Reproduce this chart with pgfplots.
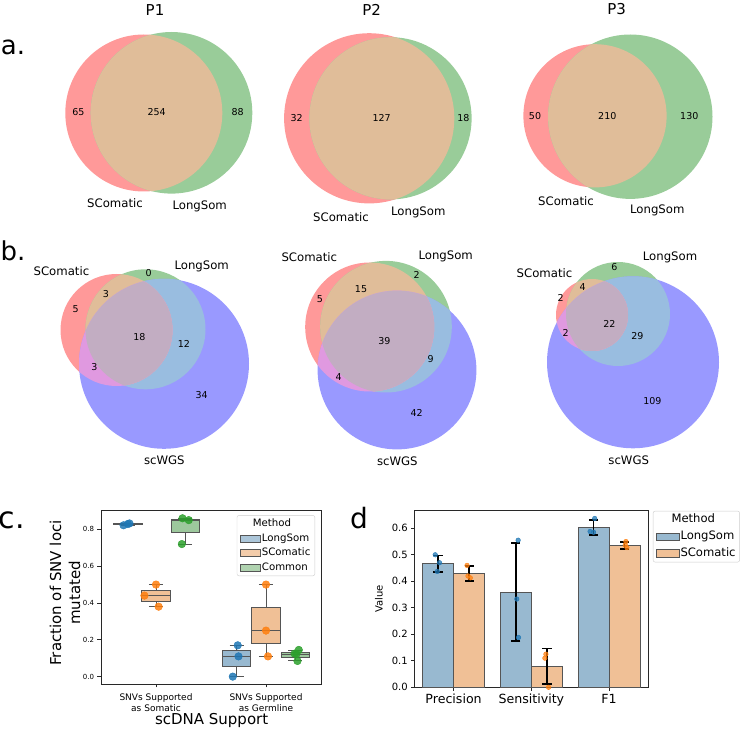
\documentclass[border=0pt]{standalone}
\usepackage{fontspec}
\setmainfont{DejaVu Sans}
\usepackage{pgfplots}
\pgfplotsset{compat=1.18}
\definecolor{vr}{RGB}{255,153,153}
\definecolor{vg}{RGB}{153,204,153}
\definecolor{vb}{RGB}{153,153,255}
\definecolor{vrg}{RGB}{224,189,153}
\definecolor{vgb}{RGB}{153,189,224}
\definecolor{vrb}{RGB}{224,153,224}
\definecolor{vrgb}{RGB}{194,173,194}
\definecolor{cA}{RGB}{31,119,180}
\definecolor{cB}{RGB}{255,127,14}
\definecolor{cC}{RGB}{44,160,44}
\definecolor{fA}{RGB}{152,185,208}
\definecolor{fB}{RGB}{240,192,150}
\definecolor{fC}{RGB}{157,200,157}
\definecolor{edge}{RGB}{85,85,85}
\definecolor{spine}{RGB}{40,40,40}
\pgfplotsset{/pgf/number format/assume math mode=true}

\newcommand{\VennTwo}[6]{%
\fill[vr] (axis cs:#1,#2) ellipse[x radius=#3,y radius=#3];
\fill[vg] (axis cs:#4,#5) ellipse[x radius=#6,y radius=#6];
\pgfplotsextra{\begin{scope}
\clip (axis cs:#1,#2) ellipse[x radius=#3,y radius=#3];
\fill[vrg] (axis cs:#4,#5) ellipse[x radius=#6,y radius=#6];
\end{scope}}}

\newcommand{\VennThree}[9]{%
\fill[vr] (axis cs:#1,#2) ellipse[x radius=#3,y radius=#3];
\fill[vg] (axis cs:#4,#5) ellipse[x radius=#6,y radius=#6];
\fill[vb] (axis cs:#7,#8) ellipse[x radius=#9,y radius=#9];
\pgfplotsextra{%
\begin{scope}
\clip (axis cs:#4,#5) ellipse[x radius=#6,y radius=#6];
\fill[vgb] (axis cs:#7,#8) ellipse[x radius=#9,y radius=#9];
\end{scope}
\begin{scope}
\clip (axis cs:#1,#2) ellipse[x radius=#3,y radius=#3];
\fill[vrg] (axis cs:#4,#5) ellipse[x radius=#6,y radius=#6];
\fill[vrb] (axis cs:#7,#8) ellipse[x radius=#9,y radius=#9];
\clip (axis cs:#4,#5) ellipse[x radius=#6,y radius=#6];
\fill[vrgb] (axis cs:#7,#8) ellipse[x radius=#9,y radius=#9];
\end{scope}}}

\pgfplotsset{
  boxfill/.style={forget plot, draw=edge, line width=1pt, fill=#1},
  boxline/.style={forget plot, edge, line width=1pt, mark=none, unbounded coords=jump},
}

\begin{document}
\begin{tikzpicture}
% ---------------- Venn panels (a, b) ----------------
\begin{axis}[name=venn, at={(0pt,0pt)}, anchor=south west, scale only axis,
  width=747pt, height=730pt, xmin=0, xmax=747, ymin=0, ymax=730,
  y dir=reverse, hide axis, clip=false]
\VennTwo{143.8}{113}{78.5}{171.5}{112.8}{80.8}
\VennTwo{369.2}{118.3}{85.1}{390.5}{118.3}{81.1}
\VennTwo{595}{115.8}{71.6}{630.3}{116.7}{82.2}
\VennThree{116.5}{330}{56}{145.5}{329.3}{60}{164}{363.8}{85}
\VennThree{369.7}{327}{64.5}{386}{326.7}{65.8}{397}{370}{79.4}
\VennThree{592}{315}{36}{618}{314}{52}{633}{362.3}{86}
\addplot[draw=none, nodes near coords, point meta=explicit symbolic,
  nodes near coords style={anchor=center, inner sep=0pt, text=black,
  font=\fontsize{9.5}{11}\selectfont}] table[meta=l] {
x y l
78.3 112.3 65
156.7 112.3 254
237.7 112.3 88
296.7 117.7 32
381.7 117.7 127
463.3 117.7 18
535 115.7 50
607.3 115.7 210
689.3 115.7 130
148.7 273.3 0
106 294.3 3
75.7 309.3 5
139.3 337.3 18
184 344 12
94.3 367.3 3
201.7 395 34
416.7 275 2
361 289 15
320 298.7 5
384.3 341 39
430.7 359.3 9
338.7 376.7 4
416.7 413.3 42
614.3 267.3 6
582.7 286.7 4
560.7 298.3 2
609.3 324 22
565.7 333.3 2
637.3 336 29
652.4 400.7 109
};
\addplot[draw=none, nodes near coords, point meta=explicit symbolic,
  nodes near coords style={anchor=center, inner sep=0pt, text=black,
  font=\fontsize{11.7}{14}\selectfont}] table[meta=l] {
x y l
115 203.3 SComatic
199.7 206.7 LongSom
341 216.7 SComatic
418.3 212.3 LongSom
566 200.7 SComatic
657.3 210.7 LongSom
61.4 270.7 SComatic
201.7 266.7 LongSom
164.3 460.7 scWGS
309.3 257.3 SComatic
445.7 256.7 LongSom
397.3 461.7 scWGS
544.5 272.7 SComatic
670 257.3 LongSom
628.7 460.7 scWGS
};
\node[font=\fontsize{15}{18}\selectfont] at (axis cs:155,10) {P1};
\node[font=\fontsize{15}{18}\selectfont] at (axis cs:371.7,9.5) {P2};
\node[font=\fontsize{15}{18}\selectfont] at (axis cs:616.7,9.5) {P3};
\node[font=\fontsize{26}{30}\selectfont] at (axis cs:13,47) {a.};
\node[font=\fontsize{26}{30}\selectfont] at (axis cs:13,251) {b.};
\node[font=\fontsize{30}{34}\selectfont] at (axis cs:12,520) {c.};
\node[font=\fontsize{28}{32}\selectfont] at (axis cs:359,518) {d};
\end{axis}

% ---------------- Panel c: box plot ----------------
\begin{axis}[name=c, at={(101pt,46pt)}, anchor=south west, scale only axis,
  width=220pt, height=174pt, xmin=-0.5, xmax=1.5, ymin=-0.04, ymax=0.905,
  axis line style={spine, line width=0.8pt},
  tick align=outside, tick pos=left, major tick length=3.5pt,
  every tick/.style={spine, line width=0.8pt},
  xtick={0,1}, xticklabels={{SNVs Supported\\as Somatic},{SNVs Supported\\as Germline}},
  xticklabel style={align=center, font=\fontsize{9}{10.7}\selectfont, yshift=-3pt},
  ytick={0,0.2,0.4,0.6,0.8},
  yticklabel style={font=\fontsize{7}{8}\selectfont, /pgf/number format/.cd, fixed, fixed zerofill, precision=1},
  xlabel={scDNA Support}, ylabel={Fraction of SNV loci\\mutated},
  xlabel style={font=\fontsize{15}{18}\selectfont, at={(axis description cs:0.503,-0.207)}, anchor=center},
  ylabel style={font=\fontsize{15}{19}\selectfont, align=center, at={(axis description cs:-0.164,0.523)}, anchor=center},
  legend style={at={(0.973,0.97)}, anchor=north east, draw=black!20, rounded corners=2pt,
    font=\fontsize{10.2}{11.5}\selectfont, fill=white, fill opacity=0.8, text opacity=1,
    row sep=2pt, inner xsep=3pt, inner ysep=2pt,
    nodes={inner sep=1.5pt, text height=7.6pt, text depth=2pt}},
  legend cell align=left]
\addlegendimage{empty legend}\addlegendentry{\hspace*{-9pt}Method}
\addlegendimage{legend image code/.code={\draw[sharp corners,fill=fA,draw=edge] (0pt,-3.4pt) rectangle (20pt,3.4pt);}}\addlegendentry{LongSom}
\addlegendimage{legend image code/.code={\draw[sharp corners,fill=fB,draw=edge] (0pt,-3.4pt) rectangle (20pt,3.4pt);}}\addlegendentry{SComatic}
\addlegendimage{legend image code/.code={\draw[sharp corners,fill=fC,draw=edge] (0pt,-3.4pt) rectangle (20pt,3.4pt);}}\addlegendentry{Common}
% boxes: quartile rectangles
\addplot[boxfill=fA] coordinates {(-0.3867,0.8255) (-0.1267,0.8255) (-0.1267,0.8305) (-0.3867,0.8305)} -- cycle;
\addplot[boxfill=fB] coordinates {(-0.13,0.41) (0.13,0.41) (0.13,0.47) (-0.13,0.47)} -- cycle;
\addplot[boxfill=fC] coordinates {(0.1367,0.785) (0.3967,0.785) (0.3967,0.855) (0.1367,0.855)} -- cycle;
\addplot[boxfill=fA] coordinates {(0.6033,0.055) (0.8633,0.055) (0.8633,0.14) (0.6033,0.14)} -- cycle;
\addplot[boxfill=fB] coordinates {(0.87,0.18) (1.13,0.18) (1.13,0.375) (0.87,0.375)} -- cycle;
\addplot[boxfill=fC] coordinates {(1.1367,0.105) (1.3967,0.105) (1.3967,0.13) (1.1367,0.13)} -- cycle;
% whiskers, caps, medians
\addplot[boxline] coordinates {(-0.2567,0.822) (-0.2567,0.8255) (nan,nan) (-0.2567,0.8305) (-0.2567,0.832) (nan,nan)
  (-0.3217,0.822) (-0.1917,0.822) (nan,nan) (-0.3217,0.832) (-0.1917,0.832) (nan,nan) (-0.3867,0.829) (-0.1267,0.829)};
\addplot[boxline] coordinates {(0,0.38) (0,0.41) (nan,nan) (0,0.47) (0,0.50) (nan,nan)
  (-0.065,0.38) (0.065,0.38) (nan,nan) (-0.065,0.50) (0.065,0.50) (nan,nan) (-0.13,0.44) (0.13,0.44)};
\addplot[boxline] coordinates {(0.2667,0.72) (0.2667,0.785) (nan,nan) (0.2667,0.855) (0.2667,0.86) (nan,nan)
  (0.2017,0.72) (0.3317,0.72) (nan,nan) (0.2017,0.86) (0.3317,0.86) (nan,nan) (0.1367,0.85) (0.3967,0.85)};
\addplot[boxline] coordinates {(0.7333,0.0) (0.7333,0.055) (nan,nan) (0.7333,0.14) (0.7333,0.17) (nan,nan)
  (0.6683,0.0) (0.7983,0.0) (nan,nan) (0.6683,0.17) (0.7983,0.17) (nan,nan) (0.6033,0.11) (0.8633,0.11)};
\addplot[boxline] coordinates {(1,0.11) (1,0.18) (nan,nan) (1,0.375) (1,0.50) (nan,nan)
  (0.935,0.11) (1.065,0.11) (nan,nan) (0.935,0.50) (1.065,0.50) (nan,nan) (0.87,0.25) (1.13,0.25)};
\addplot[boxline] coordinates {(1.2667,0.09) (1.2667,0.105) (nan,nan) (1.2667,0.13) (1.2667,0.14) (nan,nan)
  (1.2017,0.09) (1.3317,0.09) (nan,nan) (1.2017,0.14) (1.3317,0.14) (nan,nan) (1.1367,0.12) (1.3967,0.12)};
% points
\addplot[forget plot, only marks, color=cA, mark=*, mark size=3.8pt, mark options={fill=cA, draw=none, fill opacity=0.85}] coordinates {(-0.295,0.822) (-0.256,0.829) (-0.241,0.832) (0.743,0.17) (0.75,0.11) (0.698,0.0)};
\addplot[forget plot, only marks, color=cB, mark=*, mark size=3.8pt, mark options={fill=cB, draw=none, fill opacity=0.85}] coordinates {(0,0.50) (-0.105,0.44) (0.024,0.38) (1.0,0.50) (1.0,0.25) (1.018,0.11)};
\addplot[forget plot, only marks, color=cC, mark=*, mark size=3.8pt, mark options={fill=cC, draw=none, fill opacity=0.85}] coordinates {(0.241,0.86) (0.298,0.85) (0.235,0.72) (1.298,0.145) (1.277,0.123) (1.286,0.085) (1.26,0.125)};
\end{axis}

% ---------------- Panel d: bar chart ----------------
\begin{axis}[name=d, at={(414.7pt,42.7pt)}, anchor=south west, scale only axis,
  width=233.3pt, height=177.3pt, xmin=-0.5, xmax=2.5, ymin=0, ymax=0.669,
  axis line style={spine, line width=0.8pt},
  tick align=outside, tick pos=left, major tick length=3.5pt,
  every tick/.style={spine, line width=0.8pt},
  xtick={0,1,2}, xticklabels={Precision,Sensitivity,F1},
  xticklabel style={font=\fontsize{12.6}{15}\selectfont},
  ytick={0,0.1,...,0.6},
  yticklabel style={font=\fontsize{10}{12}\selectfont, /pgf/number format/.cd, fixed, fixed zerofill, precision=1},
  ylabel={Value},
  ylabel style={font=\fontsize{10}{12}\selectfont, at={(axis description cs:-0.153,0.5)}, anchor=center},
  legend style={at={(1.021,0.995)}, anchor=north west, draw=black!20, rounded corners=2pt,
    font=\fontsize{11.6}{13.5}\selectfont, row sep=2.8pt, inner xsep=2.5pt, inner ysep=2pt,
    nodes={inner sep=1.5pt, text height=8.4pt, text depth=2.4pt}},
  legend cell align=left]
\addlegendimage{empty legend}\addlegendentry{\hspace*{-9pt}Method}
\addlegendimage{legend image code/.code={\draw[sharp corners,fill=fA,draw=edge] (0pt,-3.6pt) rectangle (23pt,3.6pt);}}\addlegendentry{LongSom}
\addlegendimage{legend image code/.code={\draw[sharp corners,fill=fB,draw=edge] (0pt,-3.6pt) rectangle (23pt,3.6pt);}}\addlegendentry{SComatic}
% bars
\addplot[forget plot, ybar, bar width=0.4, bar shift=0pt, fill=fA, draw=edge, line width=0.8pt] coordinates {(-0.2,0.469) (0.8,0.359) (1.8,0.603)};
\addplot[forget plot, ybar, bar width=0.4, bar shift=0pt, fill=fB, draw=edge, line width=0.8pt] coordinates {(0.2,0.431) (1.2,0.079) (2.2,0.536)};
% points
\addplot[forget plot, only marks, color=cA, mark=*, mark size=2.3pt, mark options={fill=cA, draw=none, fill opacity=0.75}] coordinates {(-0.236,0.50) (-0.181,0.47) (-0.21,0.437) (0.83,0.555) (0.813,0.333) (0.835,0.188) (1.815,0.637) (1.755,0.588) (1.80,0.585)};
\addplot[forget plot, only marks, color=cB, mark=*, mark size=2.3pt, mark options={fill=cB, draw=none, fill opacity=0.75}] coordinates {(0.173,0.46) (0.185,0.42) (0.215,0.413) (1.187,0.125) (1.174,0.11) (1.222,0.0) (2.216,0.55) (2.207,0.537) (2.229,0.527)};
% error bars
\addplot[forget plot, draw=none, mark=none, error bars/.cd, y dir=both, y explicit,
  error bar style={draw=black, line width=1.6pt},
  error mark options={draw=black, rotate=90, mark size=4.6pt, line width=1.6pt}]
  coordinates {(-0.2,0.469) += (0,0.029) -= (0,0.033)
               (0.2,0.431) += (0,0.026) -= (0,0.029)
               (0.8,0.359) += (0,0.186) -= (0,0.185)
               (1.2,0.079) += (0,0.068) -= (0,0.067)
               (1.8,0.603) += (0,0.029) -= (0,0.028)
               (2.2,0.536) += (0,0.013) -= (0,0.014)};
\end{axis}
\pgfresetboundingbox
\path (0pt,0pt) rectangle (747pt,730pt);
\end{tikzpicture}
\end{document}
